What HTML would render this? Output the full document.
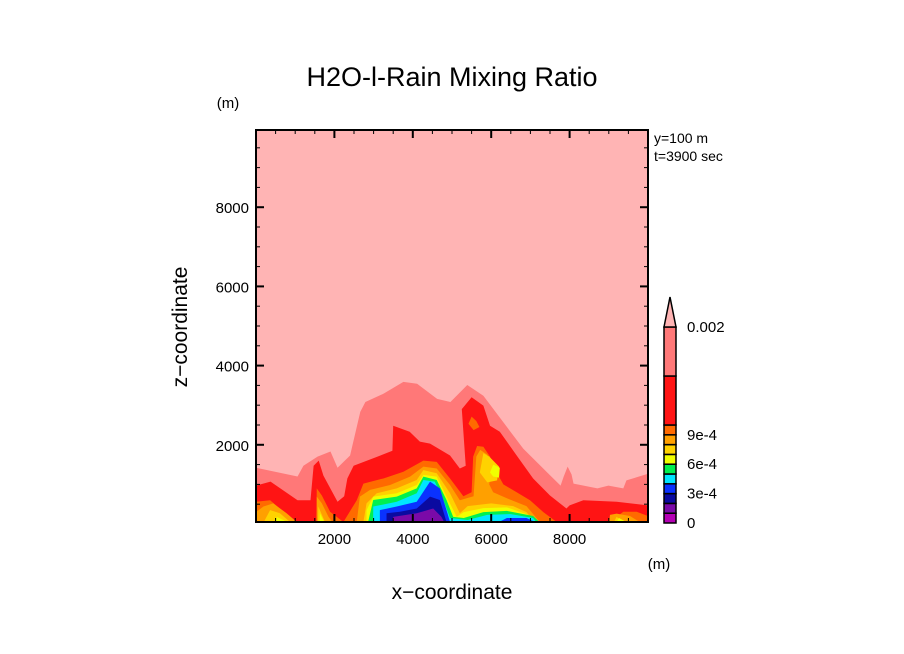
<!DOCTYPE html>
<html><head><meta charset="utf-8"><style>
html,body{margin:0;padding:0;background:#fff;}
svg{display:block;font-family:"Liberation Sans","DejaVu Sans",sans-serif;}
</style></head><body>
<svg id="chart" width="904" height="654" viewBox="0 0 904 654">
<rect width="904" height="654" fill="#fff"/>
<text x="452" y="86" text-anchor="middle" font-size="27" fill="#000">H2O-l-Rain Mixing Ratio</text>
<text x="228" y="108" text-anchor="middle" font-size="15">(m)</text>
<text x="659" y="569" text-anchor="middle" font-size="15">(m)</text>
<text x="654" y="143" font-size="14">y=100 m</text>
<text x="654" y="161" font-size="14">t=3900 sec</text>
<text x="452" y="599" text-anchor="middle" font-size="21">x−coordinate</text>
<text transform="translate(187,327) rotate(-90)" text-anchor="middle" font-size="21">z−coordinate</text>
<defs><clipPath id="pc"><rect x="256" y="130" width="392" height="392"/></clipPath></defs>
<g id="field" clip-path="url(#pc)"></g>
<g id="axes"></g>
<g id="cbar"></g>
</svg>
<script>
// contour level colors (low -> high) and labels
const levelColors = ["#b400b4","#7a0aa8","#0a0aa0","#0a32ff","#00e6ff","#00f050","#f0ff00","#ffd200","#ffa000","#ff6a00","#ff1414","#ff7878","#ffb4b4"];
const cbarLabels = ["0","3e-4","6e-4","9e-4","0.002"];
const cbarLabelValues = [0,3,6,9,12];
const xTicks = [2000,4000,6000,8000];
const zTicks = [2000,4000,6000,8000];
// top boundary of each filled level [x m, z m]
const salmonTop = [[0,1420],[1060,1200],[1210,1470],[1570,1700],[1900,1830],[2080,1420],[2400,1730],[2660,2830],[2790,3080],[3250,3290],[3760,3590],[4110,3540],[4620,3160],[4960,3080],[5390,3510],[5800,3240],[6240,2660],[6820,1900],[7510,1220],[7770,970],[7850,1200],[7950,1450],[8050,1250],[8100,1020],[8710,900],[8990,970],[9370,900],[9450,1100],[10000,1270]];
const redTop = [[0,970],[370,1070],[1060,600],[1390,600],[1470,1470],[1600,1600],[1720,1220],[2080,560],[2250,700],[2330,1150],[2490,1470],[3100,1700],[3480,1850],[3500,2480],[3920,2330],[4180,2080],[4440,2030],[4950,1730],[5200,1400],[5350,1470],[5250,2900],[5500,3200],[5800,2990],[5970,2480],[6220,2330],[6650,1730],[7070,1150],[7500,720],[7920,390],[8000,470],[8350,600],[9200,560],[10000,470]];
const orangeRedTop = [[0,560],[360,600],[700,310],[1030,50],[1540,50],[1550,900],[1680,720],[1890,310],[2230,50],[2570,600],[2740,1020],[3250,1150],[3760,1320],[4270,1600],[4610,1570],[4950,1150],[5290,700],[5500,800],[5540,1700],[5640,1970],[5800,1950],[5970,1700],[6140,1300],[6310,1000],[6650,800],[6990,600],[7330,300],[7670,50],[9030,50],[9370,310],[9710,310],[10000,200]];
const orangeTop = [[0,300],[190,440],[440,520],[780,270],[1040,50],[1550,50],[1550,690],[1680,520],[1850,180],[1950,50],[2570,50],[2650,690],[2910,860],[3420,985],[3930,1195],[4270,1450],[4610,1400],[4950,985],[5200,600],[5550,700],[5620,1700],[5720,1870],[5900,1750],[6000,1400],[5950,1000],[6050,800],[6400,650],[6900,450],[7240,50],[9010,50],[9030,230],[9200,260],[9540,200],[9790,50]];
const goldTop = [[200,50],[360,350],[610,270],[870,50],[1580,50],[1590,440],[1760,50],[2740,50],[2820,520],[3080,775],[3590,900],[4100,1110],[4270,1360],[4610,1280],[4950,775],[5200,270],[5400,450],[6000,520],[6560,450],[6900,300],[7100,50],[9130,50],[9200,180],[9370,50]];
const yellowTop = [[500,50],[530,180],[800,50],[1620,50],[1630,270],[1740,50],[2820,50],[2820,350],[2990,690],[3590,775],[4100,985],[4270,1240],[4610,1195],[4860,690],[5120,180],[5300,300],[5800,400],[6400,420],[6900,250],[7240,50],[9200,50],[9260,150],[9450,50]];
const greenTop = [[2860,50],[2990,605],[3590,690],[4100,900],[4270,1195],[4610,1110],[4860,605],[5030,180],[5300,150],[5800,300],[6400,330],[7070,200],[7230,50]];
const cyanTop = [[2990,50],[2990,440],[3590,560],[4100,775],[4270,1110],[4560,1070],[4780,605],[4950,150],[5400,100],[5900,230],[6500,250],[7070,150],[7150,50]];
const blueTop = [[3160,50],[3160,350],[3590,440],[4100,560],[4440,1070],[4690,900],[4860,350],[4950,50],[6200,50],[6400,150],[6900,150],[7120,50]];
const navyTop = [[3330,50],[3330,270],[3670,310],[4100,390],[4440,690],[4690,605],[4860,50]];
const purpleTop = [[3500,50],[3500,180],[4100,270],[4520,390],[4730,180],[4800,50]];
const islandOrange = [[5420,2530],[5500,2710],[5620,2600],[5700,2450],[5550,2370]];
const islandGold = [[5710,1300],[5800,1790],[5950,1700],[6200,1450],[6150,1100],[5900,1050]];
const islandYellow = [[5970,1300],[6050,1500],[6220,1420],[6200,1170],[6050,1200]];

const NS="http://www.w3.org/2000/svg";
const X0=256,X1=648,Y0=522,Y1=130,ZMIN=50,ZMAX=9950;
function sx(x){return X0+(x-0)/(10000-0)*(X1-X0);}
function sz(z){return Y0-(z-ZMIN)/(ZMAX-ZMIN)*(Y0-Y1);}
const field=document.getElementById('field');
const bg=document.createElementNS(NS,'rect');
bg.setAttribute('x',X0);bg.setAttribute('y',Y1);bg.setAttribute('width',X1-X0);bg.setAttribute('height',Y0-Y1);bg.setAttribute('fill',levelColors[12]);


field.appendChild(bg);
function profile(pts,color,name){
  const p=document.createElementNS(NS,'polygon');
  let s=sx(pts[0][0])+','+(Y0+5)+' ';
  pts.forEach(q=>{s+=sx(q[0])+','+sz(q[1])+' ';});
  s+=sx(pts[pts.length-1][0])+','+(Y0+5);
  p.setAttribute('points',s);p.setAttribute('fill',color);
  
  
  field.appendChild(p);
}
function island(pts,color,name){
  const p=document.createElementNS(NS,'polygon');
  p.setAttribute('points',pts.map(q=>sx(q[0])+','+sz(q[1])).join(' '));
  p.setAttribute('fill',color);
  
  
  field.appendChild(p);
}
profile(salmonTop,levelColors[11],'level-salmon');
profile(redTop,levelColors[10],'level-red');
profile(orangeRedTop,levelColors[9],'level-9e-4');
island(islandOrange,levelColors[9],'island-9e-4');
profile(orangeTop,levelColors[8],'level-8e-4');
profile(goldTop,levelColors[7],'level-7e-4');
island(islandGold,levelColors[7],'island-7e-4');
profile(yellowTop,levelColors[6],'level-6e-4');
island(islandYellow,levelColors[6],'island-6e-4');
profile(greenTop,levelColors[5],'level-5e-4');
profile(cyanTop,levelColors[4],'level-4e-4');
profile(blueTop,levelColors[3],'level-3e-4');
profile(navyTop,levelColors[2],'level-2e-4');
profile(purpleTop,levelColors[1],'level-1e-4');

// axes
const ax=document.getElementById('axes');
function line(x1,y1,x2,y2,w,name){
  const l=document.createElementNS(NS,'line');
  l.setAttribute('x1',x1);l.setAttribute('y1',y1);l.setAttribute('x2',x2);l.setAttribute('y2',y2);
  l.setAttribute('stroke','#000');l.setAttribute('stroke-width',w);
  
  
  ax.appendChild(l);
}
const frame=document.createElementNS(NS,'rect');
frame.setAttribute('x',X0);frame.setAttribute('y',Y1);frame.setAttribute('width',X1-X0);frame.setAttribute('height',Y0-Y1);
frame.setAttribute('fill','none');frame.setAttribute('stroke','#000');frame.setAttribute('stroke-width',2);


ax.appendChild(frame);
for(let v=500;v<10000;v+=500){
  const major=v%2000===0, L=major?8:4, w=major?2:1;
  const x=sx(v);
  line(x,Y0,x,Y0-L,w,'x-tick');line(x,Y1,x,Y1+L,w,'x-tick-top');
  const y=sz(v);
  if(v>ZMIN&&v<ZMAX){line(X0,y,X0+L,y,w,'z-tick');line(X1,y,X1-L,y,w,'z-tick-right');}
}
function txt(x,y,s,anchor,size,name){
  const t=document.createElementNS(NS,'text');
  t.setAttribute('x',x);t.setAttribute('y',y);t.setAttribute('text-anchor',anchor);t.setAttribute('font-size',size);
  t.textContent=s;
  
  
  return t;
}
xTicks.forEach(v=>ax.appendChild(txt(sx(v),544,String(v),'middle',15,'x-tick-label')));
zTicks.forEach(v=>ax.appendChild(txt(249,sz(v)+6,String(v),'end',15,'z-tick-label')));

// colorbar
const cb=document.getElementById('cbar');
const CX=664,CW=12,CB=523,box=9.8;
function cbY(i){
  if(i<=10) return CB-i*box;
  return CB-10*box-(i-10)*49;
}
for(let i=0;i<12;i++){
  const r=document.createElementNS(NS,'rect');
  const yTop=cbY(i+1), yBot=cbY(i);
  r.setAttribute('x',CX);r.setAttribute('y',yTop);r.setAttribute('width',CW);r.setAttribute('height',yBot-yTop);
  r.setAttribute('fill',levelColors[i]);r.setAttribute('stroke','#000');r.setAttribute('stroke-width',1.5);
  
  
  cb.appendChild(r);
}
const tri=document.createElementNS(NS,'polygon');
tri.setAttribute('points',`${CX},${cbY(12)} ${CX+CW/2},${cbY(12)-30} ${CX+CW},${cbY(12)}`);
tri.setAttribute('fill',levelColors[12]);tri.setAttribute('stroke','#000');tri.setAttribute('stroke-width',1.5);


cb.appendChild(tri);
cbarLabels.forEach((s,i)=>{
  cb.appendChild(txt(687,cbY(cbarLabelValues[i])+5,s,'start',15,'colorbar-label'));
});
</script>
</body></html>
